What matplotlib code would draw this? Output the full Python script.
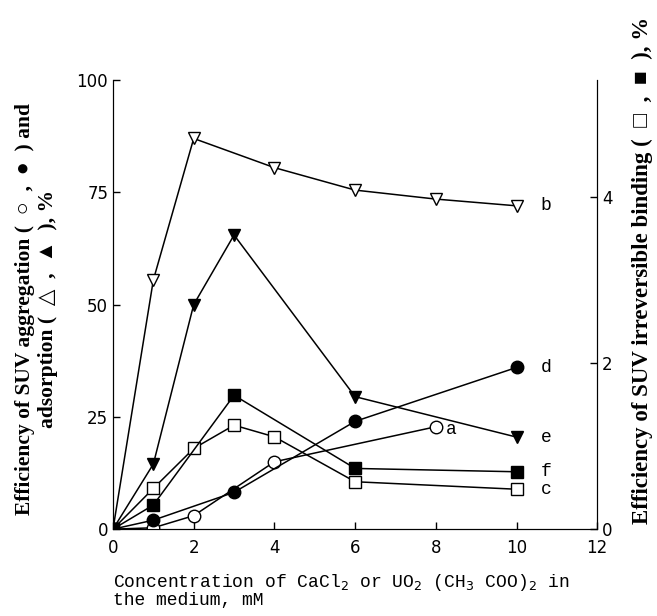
import matplotlib
matplotlib.use("Agg")
import matplotlib.pyplot as plt

# concentration, mM
x_b = [0, 1, 2, 4, 6, 8, 10]
y_b = [0, 55.5, 87, 80.5, 75.5, 73.5, 72]          # open triangles, %
x_e = [0, 1, 2, 3, 6, 10]
y_e = [0, 14.5, 50, 65.5, 29.5, 20.5]              # filled triangles, %
x_d = [0, 1, 3, 6, 10]
y_d = [0, 2, 8.2, 24, 36]                          # filled circles, %
x_a = [0, 1, 2, 4, 8]
y_a = [0, 0.3, 3, 15, 22.8]                        # open circles, %
# irreversible binding (right axis), %
x_f = [0, 1, 3, 6, 10]
y_f = [0, 0.29, 1.61, 0.73, 0.69]                  # filled squares
x_c = [0, 1, 2, 3, 4, 6, 10]
y_c = [0, 0.49, 0.97, 1.25, 1.11, 0.57, 0.48]      # open squares

plt.rcParams['font.family'] = ['DejaVu Sans']

fig = plt.figure(figsize=(6.57, 6.16), dpi=100)
ax = fig.add_axes([0.172, 0.141, 0.737, 0.729])
ax2 = ax.twinx()

lw = 1.1
ms = 9
ax.plot(x_b, y_b, '-', color='black', lw=lw, marker='v', ms=ms, mfc='white', mec='black', zorder=3)
ax.plot(x_e, y_e, '-', color='black', lw=lw, marker='v', ms=ms, mfc='black', mec='black', zorder=3)
ax.plot(x_a, y_a, '-', color='black', lw=lw, marker='o', ms=ms, mfc='white', mec='black', zorder=3)
ax.plot(x_d, y_d, '-', color='black', lw=lw, marker='o', ms=ms, mfc='black', mec='black', zorder=3)
ax2.plot(x_c, y_c, '-', color='black', lw=lw, marker='s', ms=ms - 1, mfc='white', mec='black', zorder=3)
ax2.plot(x_f, y_f, '-', color='black', lw=lw, marker='s', ms=ms - 1, mfc='black', mec='black', zorder=3)

# curve letters
lab = dict(fontsize=13, va='center', family=['Liberation Mono', 'DejaVu Sans'])
ax.text(10.6, y_b[-1], 'b', **lab)
ax.text(10.6, y_d[-1], 'd', **lab)
ax.text(10.6, y_e[-1], 'e', **lab)
ax.text(8.25, y_a[-1] - 0.5, 'a', **lab)
ax2.text(10.6, y_f[-1], 'f', **lab)
ax2.text(10.6, y_c[-1], 'c', **lab)

ax.set_xlim(0, 12)
ax.set_ylim(0, 100)
ax2.set_ylim(0, 5.4)
ax.set_xticks(range(0, 13, 2))
ax.set_yticks([0, 25, 50, 75, 100])
ax2.set_yticks([0, 2, 4])

for a in (ax, ax2):
    a.spines['top'].set_visible(False)
    a.tick_params(direction='in', labelsize=12, length=5, width=1)
ax.tick_params(axis='x', pad=7)

ax.set_xlabel('Concentration of CaCl$_2$ or UO$_2$ (CH$_3$ COO)$_2$ in\nthe medium, mM',
              family=['Liberation Mono', 'DejaVu Sans'], fontsize=13, ha='left',
              va='top', linespacing=0.95)
ax.xaxis.set_label_coords(0.0, -0.095)
ax.set_ylabel('Efficiency of SUV aggregation (  \u25cb  ,  \u25cf  ) and\nadsorption (  \u25b3  ,  \u25b2  ), %',
              family=['Liberation Serif', 'DejaVu Sans'], fontweight='bold', fontsize=15.5,
              linespacing=1.15, va='center')
ax.yaxis.set_label_coords(-0.158, 0.49)
ax2.set_ylabel('Efficiency of SUV irreversible binding (  \u25a1  ,  \u25a0  ), %',
               family=['Liberation Serif', 'DejaVu Sans'], fontweight='bold', fontsize=16.5,
               rotation=90, va='center')
ax2.yaxis.set_label_coords(1.093, 0.575)

fig.savefig('out.png', dpi=100)
